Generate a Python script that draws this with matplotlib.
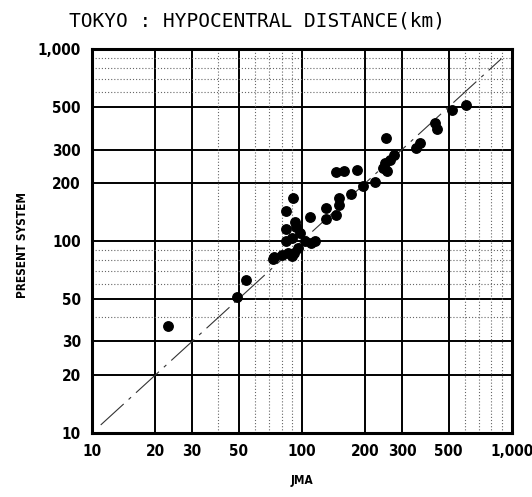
import matplotlib
matplotlib.use("Agg")
import matplotlib.pyplot as plt
from matplotlib.ticker import FixedLocator, NullLocator, FixedFormatter

# Hypocentral distance (km): JMA estimate vs. present system
jma = [23, 49, 54, 73, 74, 80, 84, 86, 90, 92, 93.6, 96, 97.5, 103, 111,
       84, 84, 90, 91, 93, 109, 115,
       130, 130, 145, 150, 150, 171, 196, 223,
       145, 158, 183,
       244, 250, 255, 262, 275, 252,
       351, 365, 430, 440, 518, 608]
present = [36, 51, 63, 81, 83, 85, 100, 87, 84, 87, 119, 92, 110, 100, 98,
           143, 115, 104, 168, 126, 133, 100,
           148, 131, 137, 155, 168, 176, 193, 204,
           230, 233, 236,
           241, 255, 232, 266, 280, 345,
           306, 325, 410, 382, 484, 512]

major_ticks = [10, 20, 30, 50, 100, 200, 300, 500, 1000]
tick_labels = ["10", "20", "30", "50", "100", "200", "300", "500", "1,000"]
dotted_lines = [40, 60, 70, 80, 90, 600, 700, 800, 900]
one_to_one = [11, 893]

fig = plt.figure(figsize=(5.32, 4.97), dpi=100)
ax = fig.add_axes([0.173, 0.129, 0.789, 0.772])
ax.set_xscale("log")
ax.set_yscale("log")
ax.set_xlim(10, 1000)
ax.set_ylim(10, 1000)

label_font = dict(family="DejaVu Sans", weight="bold", stretch="condensed")

# grid: solid at the labelled values, dotted in between
for v in major_ticks[1:-1]:
    ax.axvline(v, color="black", lw=1.4, zorder=1)
    ax.axhline(v, color="black", lw=1.4, zorder=1)
for v in dotted_lines:
    ax.axvline(v, color="#666666", lw=0.8, ls=(0, (1, 1.8)), zorder=1)
    ax.axhline(v, color="#666666", lw=0.8, ls=(0, (1, 1.8)), zorder=1)

# 1:1 reference line
ax.plot(one_to_one, one_to_one, color="#333333", lw=0.8,
        ls=(0, (28, 6, 3, 6)), zorder=2)

ax.plot(jma, present, "o", color="black", ms=6.8, mec="black", zorder=3)

ax.xaxis.set_major_locator(FixedLocator(major_ticks))
ax.yaxis.set_major_locator(FixedLocator(major_ticks))
ax.xaxis.set_minor_locator(NullLocator())
ax.yaxis.set_minor_locator(NullLocator())
ax.xaxis.set_major_formatter(FixedFormatter(tick_labels))
ax.yaxis.set_major_formatter(FixedFormatter(tick_labels))
ax.tick_params(length=0, labelsize=11, pad=8)
for lab in ax.get_xticklabels() + ax.get_yticklabels():
    lab.set_fontfamily(label_font["family"])
    lab.set_fontweight("bold")
    lab.set_fontstretch("condensed")

for s in ax.spines.values():
    s.set_linewidth(2.2)
    s.set_color("black")

ax.set_xlabel("JMA", fontsize=8.5, **label_font)
ax.xaxis.set_label_coords(0.5, -0.108)
ax.set_ylabel("PRESENT SYSTEM", fontsize=8.5, **label_font)
ax.yaxis.set_label_coords(-0.15, 0.49)

fig.text(0.483, 0.958, "TOKYO : HYPOCENTRAL DISTANCE(km)", ha="center",
         va="center", fontsize=14, family="DejaVu Sans Mono")

fig.savefig("out.png", dpi=100, facecolor="white")
